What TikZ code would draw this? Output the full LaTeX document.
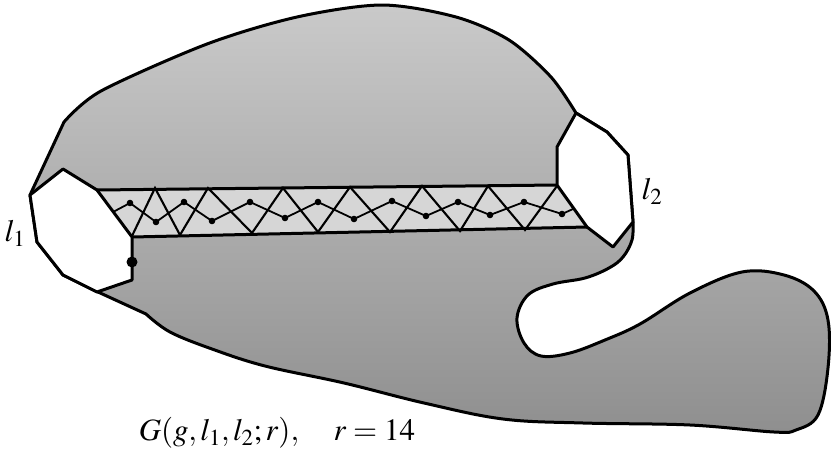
\documentclass[tikz,border=0pt]{standalone}
\usepackage{mathptmx}
\definecolor{blobtop}{gray}{0.79}
\definecolor{blobbot}{gray}{0.56}
\definecolor{stripgray}{gray}{0.84}

\begin{document}
\begin{tikzpicture}[x=1pt,y=-1pt,
    every node/.style={font=\fontsize{31}{36}\selectfont},
    rim/.style={line width=3pt, line join=round},
    hole/.style={rim, fill=white},
    ladder/.style={line width=2.1pt, line join=miter},
    chain/.style={line width=1.8pt, line join=round}
]
\useasboundingbox (0,0) rectangle (831,453);
\draw[rim, top color=blobtop, bottom color=blobbot]
  (30,195) -- (64,122)
  -- plot[smooth, tension=0.5] coordinates {(64,122) (101,91) (207,44) (297,17) (382,5) (456,17) (509,40) (551,77) (576,113)}
  -- (607,132) -- (628,155) -- (633,222)
  -- plot[smooth, tension=0.6] coordinates {(633,222) (632,240) (623,257) (609,268) (585,278) (553,284) (528,295) (517,318) (524,343) (541,356) (570,353) (605,340) (640,324) (690,293) (742,272) (784,275) (814,291) (828,320) (828,368) (818,415) (796,430) (774,432) (690,425) (583,423) (503,419) (424,403) (344,383) (265,366) (212,349) (170,332) (146,314)}
  -- (98,292) -- (63,275) -- (37,242) -- cycle;
\fill[stripgray] (97,190) -- (557,185) -- (587,227) -- (132,237) -- cycle;
\draw[rim] (97,190) -- (557,185);
\draw[rim] (132,237) -- (587,227);
\draw[hole] (30,195) -- (63,169) -- (97,190) -- (132,237) -- (132,280) -- (97,292) -- (63,275) -- (37,242) -- cycle;
\draw[hole] (576,113) -- (607,132) -- (628,155) -- (633,222) -- (613,247) -- (587,227) -- (557,185) -- (557,147) -- cycle;
\fill (132,262) circle (5.5pt);
\foreach \i/\x/\y in {0/132/236, 1/155/188, 2/180/235, 3/208/188, 4/252/233, 5/283/188, 6/318/232,
    7/350/187, 8/390/232, 9/422/186, 10/460/231, 11/488/186, 12/525/230, 13/557/186}
  \coordinate (t\i) at (\x,\y);
\draw[ladder] (t0) foreach \i in {1,...,13} {-- (t\i)};
\foreach \i/\x/\y in {1/130/203, 2/156/222, 3/184/202, 4/212/221, 5/250/202, 6/285/218, 7/318/202,
    8/354/219, 9/392/201, 10/426/216, 11/458/202, 12/490/215, 13/524/202, 14/562/214}
  \coordinate (d\i) at (\x,\y);
\coordinate (dl) at (113,212);
\coordinate (dr) at (573,209);
\draw[chain] (dl) foreach \i in {1,...,14} {-- (d\i)} -- (dr);
\foreach \i in {1,...,14} \fill (d\i) circle (3.3pt);
\node (lone) at (15,233) {$l_1$};
\node (ltwo) at (652,191) {$l_2$};
\node (caption) at (277,433) {$G(g,l_1,l_2;r),\quad r=14$};
\end{tikzpicture}
\end{document}
